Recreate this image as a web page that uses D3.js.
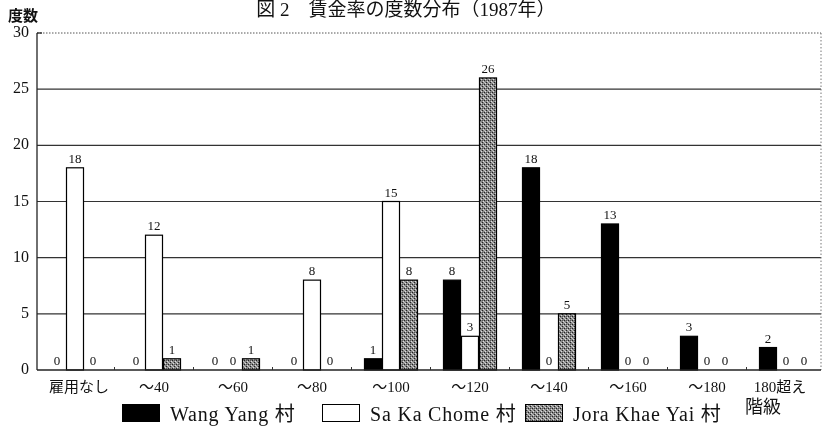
<!DOCTYPE html>
<html><head><meta charset="utf-8">
<script src="https://cdn.jsdelivr.net/npm/d3@7"></script>
<style>
body{margin:0;background:#fff;}
svg{will-change:transform;}
text{font-family:"Liberation Serif","Noto Sans CJK JP",serif;fill:#111;}
</style></head>
<body><svg id="c" width="823" height="431"></svg>
<script>
const categories = ["雇用なし","～40","～60","～80","～100","～120","～140","～160","～180","180超え"];
const seriesNames = ["Wang Yang 村","Sa Ka Chome 村","Jora Khae Yai 村"];
const wangYang = [0,0,0,0,1,8,18,13,3,2];
const saKaChome = [18,12,0,8,15,3,0,0,0,0];
const joraKhaeYai = [0,1,1,0,8,26,5,0,0,0];
const yTicks = [0,5,10,15,20,25,30];
const title = "図 2　賃金率の度数分布（1987年）";

const values = [wangYang, saKaChome, joraKhaeYai];
const svg = d3.select("#c");
svg.append("rect").attr("width",823).attr("height",431).attr("fill","#fff");
const defs = svg.append("defs");
const pat = defs.append("pattern").attr("id","stip").attr("patternUnits","userSpaceOnUse").attr("width",4).attr("height",4);
pat.append("rect").attr("width",4).attr("height",4).attr("fill","#8a8a8a");
[[0,0,"#222"],[2,2,"#222"],[1,3,"#ddd"],[3,1,"#ddd"],[2,0,"#555"],[0,2,"#bbb"]].forEach(([x,y,c])=>pat.append("rect").attr("x",x).attr("y",y).attr("width",1).attr("height",1).attr("fill",c));
const fills = ["#000","#fff","url(#stip)"];

const L=37, R=821, T=33, B=370;
const y = d3.scaleLinear().domain([0,30]).range([B,T]);
const x0 = d3.scaleBand().domain(categories).range([35.5,825.5]).paddingInner(25/79).paddingOuter(25/158);
const x1 = d3.scaleBand().domain(seriesNames).range([0,x0.bandwidth()]);

// grid
svg.append("g").selectAll("line").data(yTicks.filter(t=>t>0&&t<30)).join("line")
 .attr("x1",L).attr("x2",R).attr("y1",d=>y(d)).attr("y2",d=>y(d)).attr("stroke","#333").attr("stroke-width",1.1);
// top & right dotted border
svg.append("line").attr("x1",L).attr("x2",R).attr("y1",y(30)).attr("y2",y(30)).attr("stroke","#555").attr("stroke-dasharray","1.5,1.5");
svg.append("line").attr("x1",R).attr("x2",R).attr("y1",y(30)).attr("y2",B).attr("stroke","#777").attr("stroke-dasharray","1.5,2");

// bars
categories.forEach((c,i)=>{
  seriesNames.forEach((s,j)=>{
    const v = values[j][i];
    const bx = x0(c)+x1(s);
    if(v>0){
      svg.append("rect").attr("x",bx+0.5).attr("y",y(v)).attr("width",x1.bandwidth()-1).attr("height",B-y(v))
        .attr("fill",fills[j]).attr("stroke","#000").attr("stroke-width",1.2);
    }
    svg.append("text").attr("x",bx+x1.bandwidth()/2).attr("y",y(v)-5).attr("text-anchor","middle")
      .attr("font-size",13).text(v);
  });
});

// y axis
svg.append("line").attr("x1",L).attr("x2",L).attr("y1",T).attr("y2",B).attr("stroke","#222").attr("stroke-width",1.3);
svg.append("line").attr("x1",L).attr("x2",L+5).attr("y1",T).attr("y2",T).attr("stroke","#222").attr("stroke-width",1.3);
svg.append("g").selectAll("text").data(yTicks).join("text")
 .attr("x",29).attr("y",d=>y(d)+4).attr("text-anchor","end").attr("font-size",16).text(d=>d);
// x axis
svg.append("line").attr("x1",L).attr("x2",R).attr("y1",B).attr("y2",B).attr("stroke","#222").attr("stroke-width",1.5);
const bounds = categories.slice(1).map(c=>x0(c)-x0.step()*x0.paddingInner()/2);
svg.append("g").selectAll("line").data(bounds).join("line")
 .attr("x1",d=>d).attr("x2",d=>d).attr("y1",B).attr("y2",B-3).attr("stroke","#333");
svg.append("g").selectAll("text").data(categories).join("text")
 .attr("x",(d,i)=>x0(d)+x0.bandwidth()/2+(i===0?4:(i===9?-6:0))).attr("y",392).attr("text-anchor","middle").attr("font-size",15).text(d=>d);

// titles
svg.append("text").attr("x",406).attr("y",16).attr("text-anchor","middle").attr("font-size",19).text(title);
svg.append("text").attr("x",8).attr("y",21).attr("font-size",15).attr("font-weight","bold").text("度数");
svg.append("text").attr("x",745).attr("y",413).attr("font-size",18).text("階級");

// legend
const lx=[122,322,525];
seriesNames.forEach((s,j)=>{
  svg.append("rect").attr("x",lx[j]+0.5).attr("y",404.5).attr("width",37).attr("height",17).attr("fill",fills[j]).attr("stroke","#000");
  svg.append("text").attr("x",lx[j]+48).attr("y",421).attr("font-size",20).attr("letter-spacing",0.8).text(s);
});
</script></body></html>
